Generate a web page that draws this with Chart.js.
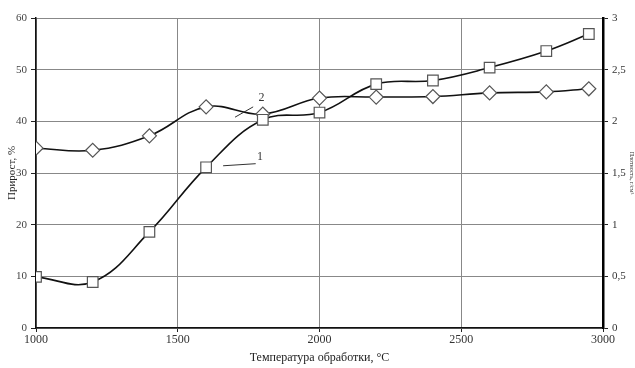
<!DOCTYPE html>
<html lang="ru">
<head>
  <meta charset="UTF-8">
  <title>Температура обработки</title>
  <script src="https://cdn.jsdelivr.net/npm/chart.js"></script>
  <style>
    body {
      margin: 0;
      background: #fff;
    }
    .chart-box {
      position: relative;
      width: 635px;
      height: 368px;
    }
  </style>
</head>
<body>
  <div class="chart-box">
    <canvas id="chart"></canvas>
  </div>

  <script>
    // Data
    const temps = [1000, 1200, 1400, 1600, 1800, 2000, 2200, 2400, 2600, 2800, 2950];
    const series1 = [9.9, 8.9, 18.6, 31.1, 40.3, 41.7, 47.2, 47.9, 50.4, 53.6, 56.9];   // left axis, %
    const series2 = [1.74, 1.72, 1.86, 2.14, 2.07, 2.225, 2.235, 2.24, 2.275, 2.285, 2.315]; // right axis

    const xTicks = [1000, 1500, 2000, 2500, 3000];
    const leftTicks = [0, 10, 20, 30, 40, 50, 60];
    const rightTicks = [0, 0.5, 1, 1.5, 2, 2.5, 3];

    // curve numbers with leader lines (data coordinates, left axis)
    const curveLabels = [
      { text: "1", at: [1790, 33.2], from: [1660, 31.4], to: [1775, 31.8] },
      { text: "2", at: [1795, 44.6], from: [1702, 40.8], to: [1766, 42.8] }
    ];

    const serif = "'Liberation Serif', 'DejaVu Serif', serif";

    const curveLabelPlugin = {
      id: "curveLabels",
      afterDatasetsDraw(chart) {
        const ctx = chart.ctx;
        const x = chart.scales.x;
        const y = chart.scales.y;
        ctx.save();
        ctx.strokeStyle = "#333";
        ctx.lineWidth = 1;
        ctx.fillStyle = "#333";
        ctx.font = "12px " + serif;
        ctx.textAlign = "center";
        ctx.textBaseline = "middle";
        curveLabels.forEach(l => {
          ctx.beginPath();
          ctx.moveTo(x.getPixelForValue(l.from[0]), y.getPixelForValue(l.from[1]));
          ctx.lineTo(x.getPixelForValue(l.to[0]), y.getPixelForValue(l.to[1]));
          ctx.stroke();
          ctx.fillText(l.text, x.getPixelForValue(l.at[0]), y.getPixelForValue(l.at[1]));
        });
        ctx.restore();
      }
    };

    const commaLabel = v => String(v).replace(".", ",");

    new Chart(document.getElementById("chart"), {
      type: "line",
      data: {
        datasets: [{
          label: "1",
          data: temps.map((t, i) => ({ x: t, y: series1[i] })),
          yAxisID: "y",
          borderColor: "#111",
          borderWidth: 1.6,
          tension: 0.4,
          pointStyle: "rect",
          pointRadius: 7.5,
          pointBackgroundColor: "#fff",
          pointBorderColor: "#555",
          pointBorderWidth: 1.2
        }, {
          label: "2",
          data: temps.map((t, i) => ({ x: t, y: series2[i] })),
          yAxisID: "y2",
          borderColor: "#111",
          borderWidth: 1.6,
          tension: 0.4,
          pointStyle: "rectRot",
          pointRadius: 7,
          pointBackgroundColor: "#fff",
          pointBorderColor: "#555",
          pointBorderWidth: 1.2
        }]
      },
      options: {
        responsive: true,
        maintainAspectRatio: false,
        animation: false,
        layout: { padding: { top: 18, left: 0, right: 0, bottom: 0 } },
        plugins: {
          legend: { display: false },
          tooltip: { enabled: false }
        },
        scales: {
          x: {
            type: "linear",
            min: 1000,
            max: 3000,
            afterBuildTicks: s => { s.ticks = xTicks.map(v => ({ value: v })); },
            afterFit: s => { s.height = 40; },
            ticks: {
              color: "#333",
              font: { family: serif, size: 12 },
              padding: 1,
              maxRotation: 0,
              callback: v => String(v)
            },
            grid: { color: "#888", lineWidth: 1, tickLength: 4, tickColor: "#222" },
            border: { color: "#111", width: 1.5 },
            title: {
              display: true,
              text: "Температура обработки, °С",
              color: "#222",
              font: { family: serif, size: 12 },
              padding: { top: 0, bottom: 3 }
            }
          },
          y: {
            position: "left",
            min: 0,
            max: 60,
            afterBuildTicks: s => { s.ticks = leftTicks.map(v => ({ value: v })); },
            afterFit: s => { s.width = 36; },
            ticks: {
              color: "#444",
              font: { family: serif, size: 11 },
              padding: 4
            },
            grid: { color: "#888", lineWidth: 1, tickLength: 5, tickColor: "#222" },
            border: { color: "#111", width: 1.5 },
            title: {
              display: true,
              text: "Прирост, %",
              color: "#222",
              font: { family: serif, size: 11 },
              padding: { top: 6, bottom: 0 }
            }
          },
          y2: {
            position: "right",
            min: 0,
            max: 3,
            afterBuildTicks: s => { s.ticks = rightTicks.map(v => ({ value: v })); },
            afterFit: s => { s.width = 32; },
            ticks: {
              color: "#333",
              font: { family: serif, size: 11 },
              padding: 4,
              callback: v => commaLabel(v)
            },
            grid: { drawOnChartArea: false, tickLength: 5, tickColor: "#222", color: "#222" },
            border: { color: "#000", width: 2.5 },
            title: {
              display: true,
              text: "Плотность, г/см³",
              color: "#333",
              font: { family: serif, size: 6 },
              padding: { top: 0, bottom: 0 }
            }
          }
        }
      },
      plugins: [curveLabelPlugin]
    });
  </script>
</body>
</html>
